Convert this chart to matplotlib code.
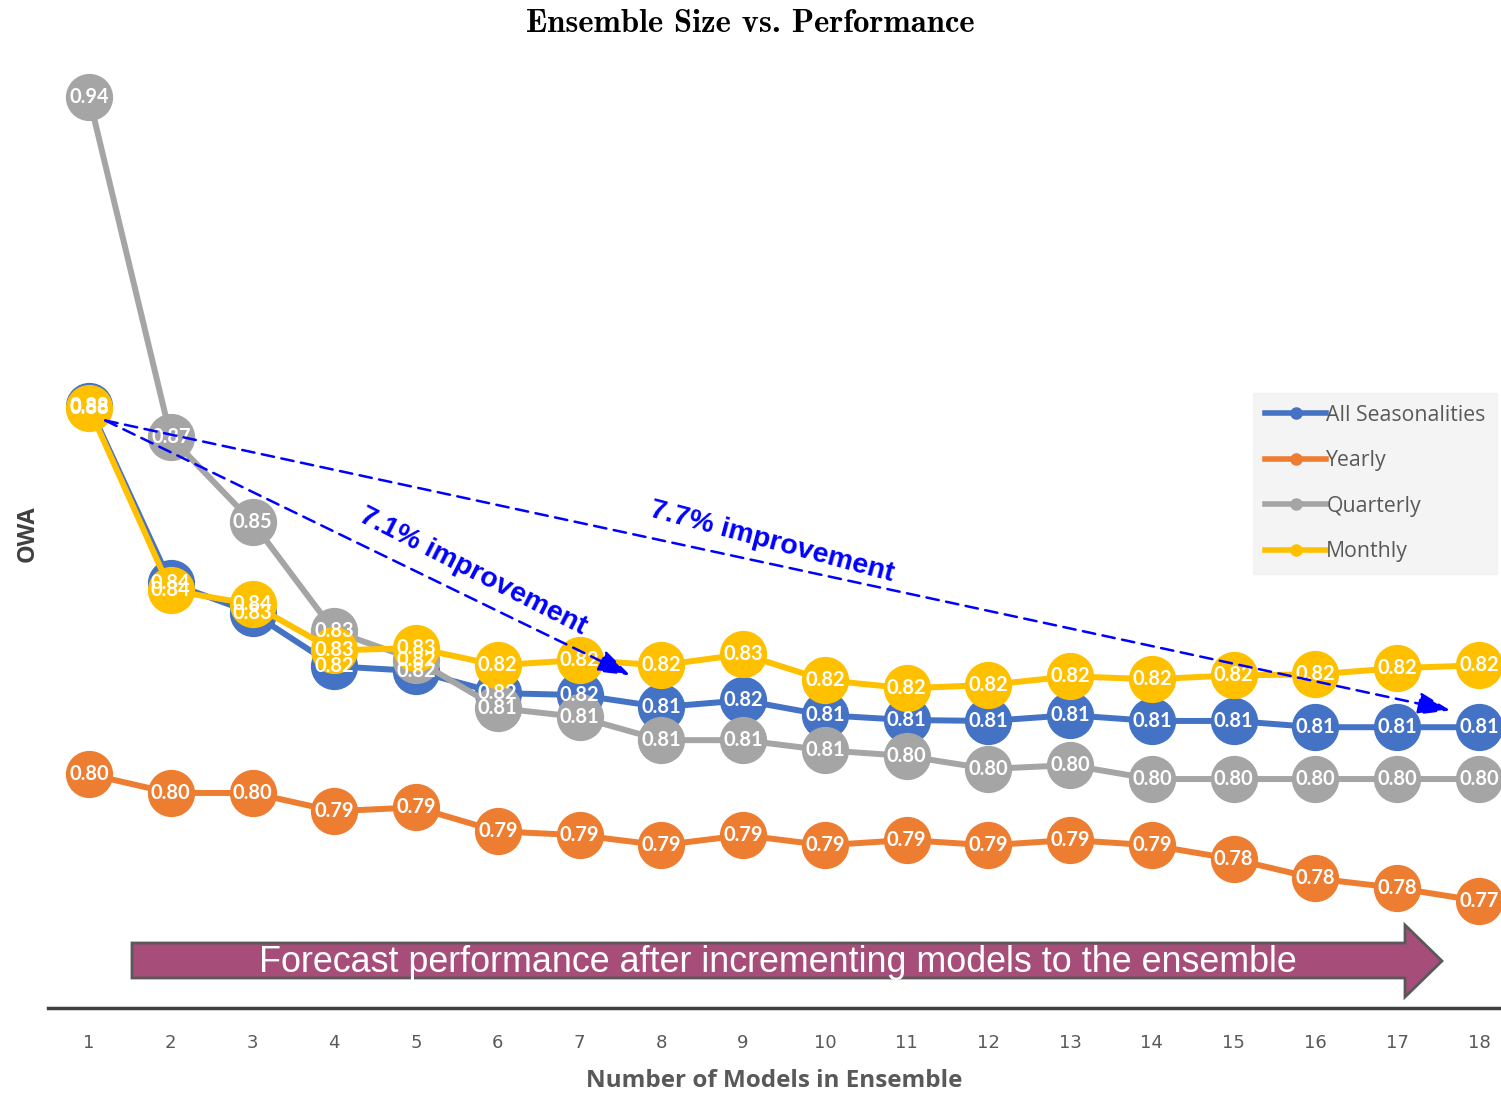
import matplotlib.pyplot as plt
import matplotlib.patches as mpatches
from matplotlib.lines import Line2D

# OWA for each ensemble size, per seasonality
n_models = list(range(1, 19))
all_seasonalities = [0.8769, 0.8400, 0.8338, 0.8227, 0.8217, 0.8171, 0.8167, 0.8142, 0.8156,
                     0.8125, 0.8115, 0.8113, 0.8125, 0.8113, 0.8113, 0.8100, 0.8100, 0.8100]
yearly = [0.8002, 0.7963, 0.7963, 0.7925, 0.7933, 0.7883, 0.7875, 0.7854, 0.7875,
          0.7854, 0.7865, 0.7854, 0.7865, 0.7854, 0.7825, 0.7785, 0.7765, 0.7738]
quarterly = [0.9413, 0.8704, 0.8527, 0.8300, 0.8240, 0.8140, 0.8121, 0.8073, 0.8073,
             0.8052, 0.8040, 0.8013, 0.8021, 0.7992, 0.7992, 0.7992, 0.7992, 0.7992]
monthly = [0.8765, 0.8385, 0.8356, 0.8260, 0.8265, 0.8229, 0.8240, 0.8229, 0.8252,
           0.8198, 0.8181, 0.8188, 0.8206, 0.8200, 0.8208, 0.8210, 0.8223, 0.8229]

series_names = ["All Seasonalities", "Yearly", "Quarterly", "Monthly"]
series_values = [all_seasonalities, yearly, quarterly, monthly]
series_colors = ["#4472C4", "#ED7D31", "#A5A5A5", "#FFC000"]

fig = plt.figure(figsize=(15.01, 10.96), dpi=100)
ax = fig.add_axes([48 / 1501, 1 - 1008 / 1096, 1453 / 1501, (1008 - 60) / 1096])

for i, (name, vals, col) in enumerate(zip(series_names, series_values, series_colors)):
    ax.plot(n_models, vals, color=col, lw=4.3, marker="o", markersize=33,
            markeredgecolor=col, zorder=2 + i, solid_capstyle="round")

# value labels sit above every series
for vals in series_values:
    for x, v in zip(n_models, vals):
        ax.text(x, v, f"{v:.2f}", color="white", fontsize=14.5, fontweight="bold",
                family="Lato", ha="center", va="center", zorder=10)

ax.set_xlim(0.4985, 18.27)
ax.set_ylim(0.7515, 0.949)
ax.set_xticks(n_models)
ax.set_yticks([])
for s in ["top", "right", "left"]:
    ax.spines[s].set_visible(False)
ax.spines["bottom"].set_color("#404040")
ax.spines["bottom"].set_linewidth(2.5)
ax.tick_params(axis="x", length=0, pad=19, labelsize=13, labelcolor="#595959")

ax.set_xlabel("Number of Models in Ensemble", fontsize=17.5, fontweight="bold",
              color="#595959", family="Open Sans", labelpad=12)
ax.set_ylabel("OWA", fontsize=17, fontweight="bold", color="#404040",
              family="Open Sans")
ax.yaxis.set_label_coords(-0.006, 0.5)
fig.suptitle("Ensemble Size vs. Performance", y=0.992, fontsize=23.5,
             family="cmb10", color="black")

# improvement arrows from the single model baseline
start = (1.2, all_seasonalities[0] - 0.003)
arrow_kw = dict(arrowstyle="-|>,head_length=2.0,head_width=0.7", color="#0000FF",
                lw=1.8, linestyle=(0, (5, 3)), shrinkA=0, shrinkB=0)
ax.annotate("", xy=(7.62, 0.8208), xytext=start, arrowprops=arrow_kw, zorder=12)
ax.annotate("", xy=(17.65, 0.8135), xytext=start, arrowprops=arrow_kw, zorder=12)
ax.text(5.7, 0.8425, "7.1% improvement", color="#0000FF", fontsize=20.5,
        fontweight="bold", family="Liberation Sans", rotation=-27,
        ha="center", va="center", zorder=12)
ax.text(9.35, 0.8485, "7.7% improvement", color="#0000FF", fontsize=20.5,
        fontweight="bold", family="Liberation Sans", rotation=-15,
        ha="center", va="center", zorder=12)

# wide arrow banner across the bottom
W, H = 1501, 1096
pts = [(132, 943), (1405, 943), (1405, 925), (1442, 961), (1405, 997),
       (1405, 978), (132, 978)]
banner = mpatches.Polygon([(x / W, 1 - y / H) for x, y in pts], closed=True,
                          transform=fig.transFigure, facecolor="#A64D79",
                          edgecolor="#595959", lw=2, zorder=20)
fig.patches.append(banner)
fig.text(778 / W, 1 - 962 / H, "Forecast performance after incrementing models to the ensemble",
         color="white", fontsize=25.8, family="Liberation Sans", ha="center", va="center",
         zorder=21)

handles = [Line2D([0], [0], color=c, lw=4, marker="o", markersize=8) for c in series_colors]
leg = ax.legend(handles, series_names, loc="upper left",
                bbox_to_anchor=((1253 - 48) / 1453, (1008 - 393) / 948),
                frameon=True, fancybox=False, facecolor="#F2F2F2", edgecolor="#F2F2F2",
                handlelength=2.9, handletextpad=0.0, labelspacing=1.15,
                borderpad=0.55, borderaxespad=0, prop={"family": "Open Sans", "size": 15.3})
for t in leg.get_texts():
    t.set_color("#595959")

fig.savefig("out.png", dpi=100)
